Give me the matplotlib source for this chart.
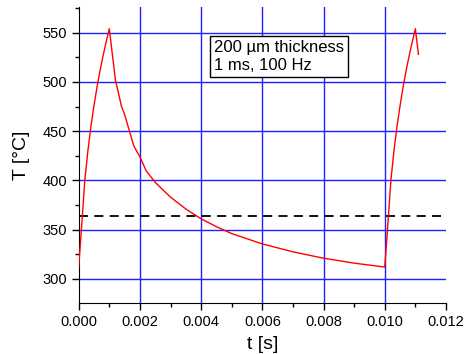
import matplotlib
matplotlib.use("Agg")
import matplotlib.pyplot as plt
from matplotlib.ticker import MultipleLocator

plt.rcParams['font.family'] = ['Liberation Sans', 'DejaVu Sans']

# temperature trace
t_s = [0.0, 0.0001, 0.0002, 0.0003, 0.0004, 0.0005, 0.0006, 0.0007, 0.0008, 0.0009, 0.001,
       0.0012, 0.0014, 0.0015, 0.0018, 0.002, 0.0022, 0.0025, 0.003, 0.0035, 0.004,
       0.0045, 0.005, 0.006, 0.007, 0.008, 0.009, 0.010,
       0.0101, 0.0102, 0.0103, 0.0104, 0.0105, 0.0106, 0.0107, 0.0108, 0.0109, 0.011, 0.0111]
T_C = [312, 355, 400, 430, 455, 476, 495, 512, 527, 541, 554,
       502, 475, 467, 435, 424, 410, 398, 383, 371, 361,
       353, 346, 335.5, 327.5, 321, 316, 312,
       355, 400, 430, 455, 476, 495, 512, 527, 541, 554, 528]
T_mean = 364
box_text = "200 µm thickness\n1 ms, 100 Hz"

fig = plt.figure(figsize=(4.67, 3.54), dpi=100)
ax = fig.add_axes([0.1685, 0.144, 0.7865, 0.836])

for v in [0.002, 0.004, 0.006, 0.008, 0.010]:
    ax.axvline(v, color='#2020ff', lw=1.0, zorder=1)
for h in [300, 350, 400, 450, 500, 550]:
    ax.axhline(h, color='#2020ff', lw=1.0, zorder=1)

ax.plot(t_s, T_C, color='red', lw=1.0, zorder=3)
ax.axhline(T_mean, color='black', lw=1.3, ls=(0, (5, 3.5)), zorder=2)

ax.set_xlim(0, 0.012)
ax.set_ylim(275.5, 576)
ax.xaxis.set_major_locator(MultipleLocator(0.002))
ax.xaxis.set_minor_locator(MultipleLocator(0.001))
ax.yaxis.set_major_locator(MultipleLocator(50))
ax.yaxis.set_minor_locator(MultipleLocator(25))
ax.xaxis.set_major_formatter(matplotlib.ticker.FormatStrFormatter('%.3f'))
ax.set_yticks([300, 350, 400, 450, 500, 550])

for s in ['top', 'right']:
    ax.spines[s].set_visible(False)
ax.tick_params(which='major', direction='out', length=5, width=1, labelsize=10.5)
ax.tick_params(which='minor', direction='out', length=3, width=1)

ax.set_xlabel("t [s]", fontsize=14, labelpad=5)
ax.set_ylabel("T [°C]", fontsize=14, labelpad=9)

ax.text(0.00443, 542.5, box_text, fontsize=12, va='top', ha='left', linespacing=1.25,
        bbox=dict(boxstyle='square,pad=0.25', facecolor='white', edgecolor='black', lw=1), zorder=4)

fig.savefig("out.png", dpi=100)
